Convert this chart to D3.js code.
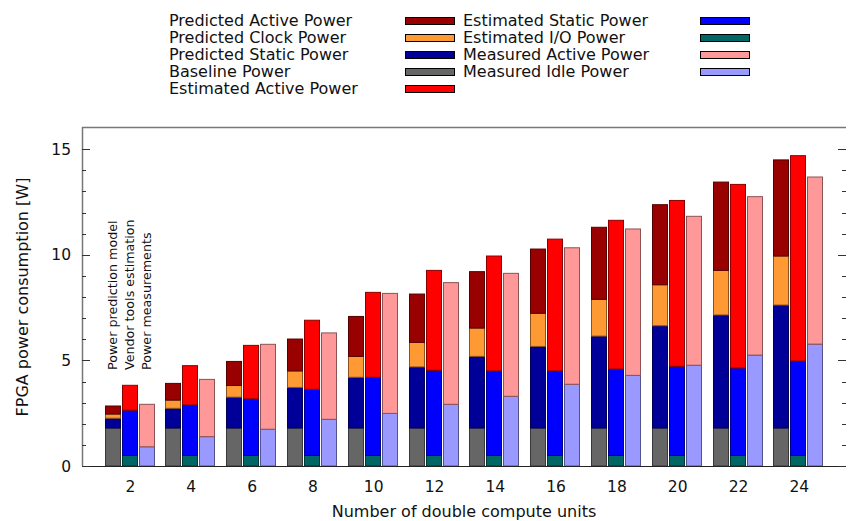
<!DOCTYPE html>
<html>
<head>
<meta charset="utf-8">
<script src="https://cdn.jsdelivr.net/npm/d3@7"></script>
<style>
  html, body { margin: 0; padding: 0; background: #fff; }
  svg { display: block; }
  text { font-family: "DejaVu Sans", sans-serif; fill: #111; }
</style>
</head>
<body>
<div id="chart"></div>
<script>
// Number of double compute units (x categories)
const units = [2, 4, 6, 8, 10, 12, 14, 16, 18, 20, 22, 24];

// Power prediction model components [W]
const predBaseline = [1.8, 1.8, 1.8, 1.8, 1.8, 1.8, 1.8, 1.8, 1.8, 1.8, 1.8, 1.8];
const predStatic   = [0.46, 0.93, 1.46, 1.92, 2.40, 2.89, 3.39, 3.86, 4.35, 4.84, 5.35, 5.82];
const predClock    = [0.20, 0.39, 0.55, 0.78, 0.99, 1.16, 1.34, 1.57, 1.74, 1.94, 2.11, 2.32];
const predActive   = [0.38, 0.79, 1.14, 1.51, 1.89, 2.29, 2.67, 3.04, 3.41, 3.79, 4.18, 4.55];

// Vendor tools estimation components [W]
const estIO     = [0.5, 0.5, 0.5, 0.5, 0.5, 0.5, 0.5, 0.5, 0.5, 0.5, 0.5, 0.5];
const estStatic = [2.14, 2.39, 2.68, 3.13, 3.70, 4.03, 4.00, 4.00, 4.09, 4.22, 4.14, 4.47];
const estActive = [1.18, 1.86, 2.53, 3.27, 4.02, 4.73, 5.44, 6.24, 7.04, 7.85, 8.69, 9.72];

// Power measurements components [W]
const measIdle   = [0.91, 1.39, 1.74, 2.21, 2.49, 2.92, 3.30, 3.87, 4.29, 4.77, 5.25, 5.77];
const measActive = [2.01, 2.71, 4.02, 4.09, 5.68, 5.76, 5.82, 6.46, 6.93, 7.05, 7.50, 7.91];

const yTicks = [0, 5, 10, 15];

// Series definitions: name, colour, values, which bar they stack on
const series = [
  { name: "Predicted Active Power", color: "#990000", group: "pred",   values: predActive },
  { name: "Predicted Clock Power",  color: "#ff9933", group: "pred",   values: predClock },
  { name: "Predicted Static Power", color: "#000099", group: "pred",   values: predStatic },
  { name: "Baseline Power",         color: "#666666", group: "pred",   values: predBaseline },
  { name: "Estimated Active Power", color: "#ff0000", group: "est",    values: estActive },
  { name: "Estimated Static Power", color: "#0000ff", group: "est",    values: estStatic },
  { name: "Estimated I/O Power",    color: "#006666", group: "est",    values: estIO },
  { name: "Measured Active Power",  color: "#ff9999", group: "meas",   values: measActive },
  { name: "Measured Idle Power",    color: "#9999ff", group: "meas",   values: measIdle }
];

// Stacking order (bottom to top) per bar
const stackOrder = {
  pred: ["Baseline Power", "Predicted Static Power", "Predicted Clock Power", "Predicted Active Power"],
  est:  ["Estimated I/O Power", "Estimated Static Power", "Estimated Active Power"],
  meas: ["Measured Idle Power", "Measured Active Power"]
};
const barLabels = { pred: "Power prediction model", est: "Vendor tools estimation", meas: "Power measurements" };

const W = 849, H = 521;
const plot = { left: 82, right: 846, top: 128, bottom: 466 };

const svg = d3.select("#chart").append("svg")
  .attr("width", W).attr("height", H);

const y = d3.scaleLinear().domain([0, 16]).range([plot.bottom, plot.top]);

// Category bands (one per unit count), centred on the middle bar
const x = d3.scaleBand().domain(units).range([99.1, 828.7]).padding(0);
const xSub = d3.scaleBand().domain(["pred", "est", "meas"])
  .range([-25, 25]).paddingInner(1 - 16 / 17).paddingOuter(0);

const byName = Object.fromEntries(series.map(s => [s.name, s]));

// Build stacked segments
Object.entries(stackOrder).forEach(([grp, names]) => {
  const rows = units.map((u, i) => {
    const r = { unit: u };
    names.forEach(n => r[n] = byName[n].values[i]);
    return r;
  });
  const stacked = d3.stack().keys(names)(rows);
  const g = svg.append("g").attr("class", "bars-" + grp);
  stacked.forEach(layer => {
    const col = byName[layer.key].color;
    g.selectAll(null).data(layer).enter().append("rect")
      .attr("x", d => Math.round(x(d.data.unit) + x.bandwidth() / 2 + xSub(grp)) + 0.5)
      .attr("width", Math.round(xSub.bandwidth()) - 1)
      .attr("y", d => y(d[1]))
      .attr("height", d => y(d[0]) - y(d[1]))
      .attr("fill", col)
      .attr("stroke", d3.color(col).darker(1.7))
      .attr("stroke-width", 1);
  });
});

// Frame: top line, left and bottom axis lines
svg.append("line").attr("x1", plot.left).attr("x2", plot.right)
  .attr("y1", plot.top - 0.5).attr("y2", plot.top - 0.5)
  .attr("stroke", "#777").attr("stroke-width", 1.5);
svg.append("line").attr("x1", plot.left + 0.5).attr("x2", plot.left + 0.5)
  .attr("y1", plot.top - 1).attr("y2", plot.bottom)
  .attr("stroke", "#777").attr("stroke-width", 1.5);
svg.append("line").attr("x1", plot.left).attr("x2", plot.right)
  .attr("y1", plot.bottom + 0.5).attr("y2", plot.bottom + 0.5)
  .attr("stroke", "#222").attr("stroke-width", 1.2);

// Y axis (left) with inward major/minor ticks
const minor = d3.range(0, 16);
const leftAxis = svg.append("g");
leftAxis.selectAll(null).data(minor).enter().append("line")
  .attr("x1", plot.left).attr("x2", d => plot.left + (d % 5 === 0 ? 8 : 4))
  .attr("y1", d => Math.round(y(d)) + 0.5).attr("y2", d => Math.round(y(d)) + 0.5)
  .attr("stroke", "#333").attr("stroke-width", 1);
leftAxis.selectAll(null).data(yTicks).enter().append("text")
  .attr("x", plot.left - 11).attr("y", d => y(d)).attr("dy", "0.36em")
  .attr("text-anchor", "end").style("font-size", "15.5px").text(d => d);

// Right-side mirrored ticks
svg.append("g").selectAll(null).data(minor).enter().append("line")
  .attr("x1", plot.right).attr("x2", d => plot.right - (d % 5 === 0 ? 8 : 4))
  .attr("y1", d => Math.round(y(d)) + 0.5).attr("y2", d => Math.round(y(d)) + 0.5)
  .attr("stroke", "#333").attr("stroke-width", 1);

// X tick labels
svg.append("g").selectAll(null).data(units).enter().append("text")
  .attr("x", d => x(d) + x.bandwidth() / 2 + 1)
  .attr("y", 492).attr("text-anchor", "middle").style("font-size", "15.5px")
  .text(d => d);

// Axis titles
svg.append("text").attr("x", (plot.left + plot.right) / 2).attr("y", 516.5)
  .attr("text-anchor", "middle").style("font-size", "16px")
  .text("Number of double compute units");
svg.append("text")
  .attr("transform", `translate(28,${(plot.top + plot.bottom) / 2}) rotate(-90)`)
  .attr("text-anchor", "middle").style("font-size", "16px")
  .text("FPGA power consumption [W]");

// Vertical labels naming the three bars of each group
svg.append("g").selectAll(null).data(["pred", "est", "meas"]).enter().append("text")
  .attr("transform", d => {
    const cx = x(units[0]) + x.bandwidth() / 2 + xSub(d) + xSub.bandwidth() / 2;
    return `translate(${cx + 4.5},370) rotate(-90)`;
  })
  .attr("text-anchor", "start").style("font-size", "12.7px")
  .text(d => barLabels[d]);

// Legend: two columns, text followed by a swatch
const legendCols = [
  { textX: 169, swX: 405, items: series.slice(0, 5) },
  { textX: 463, swX: 700, items: series.slice(5) }
];
legendCols.forEach(col => {
  const g = svg.append("g");
  col.items.forEach((s, i) => {
    const cy = 20.5 + i * 17;
    g.append("text").attr("x", col.textX).attr("y", cy).attr("dy", "0.36em")
      .style("font-size", "16px").text(s.name);
    g.append("rect").attr("x", col.swX + 0.5).attr("y", Math.round(cy - 4) + 0.5)
      .attr("width", 49).attr("height", 7)
      .attr("fill", s.color).attr("stroke", "#000").attr("stroke-width", 1);
  });
});
</script>
</body>
</html>
